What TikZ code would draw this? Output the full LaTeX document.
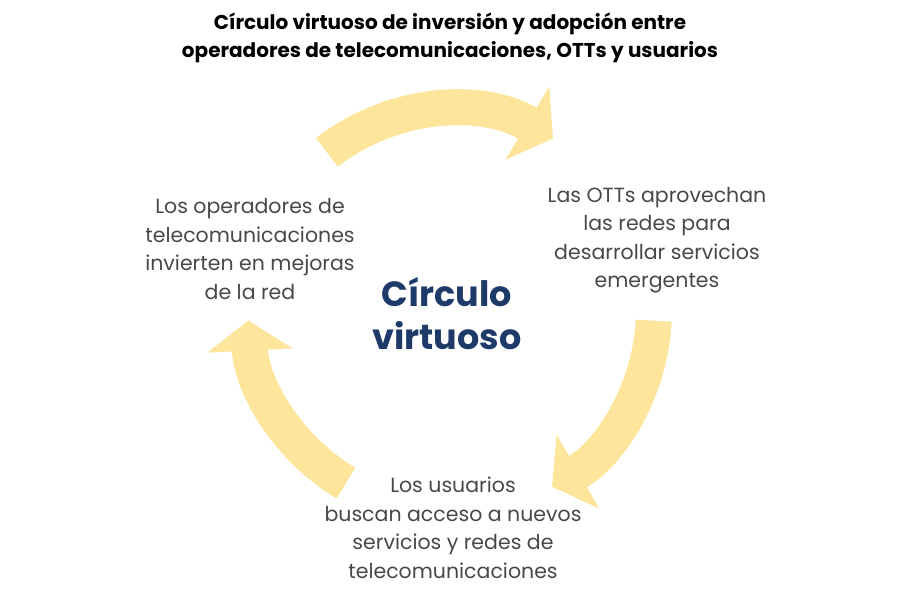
\documentclass[tikz,border=0pt]{standalone}
\usepackage{fontspec}
\setmainfont{Poppins}
\usepackage{tikz}
\usetikzlibrary{positioning,arrows.meta,calc}
\definecolor{SoftYellow}{HTML}{FDE59C}
\definecolor{TextGray}{HTML}{484848}
\definecolor{DeepNavy}{HTML}{1E3A68}

\begin{document}
\begin{tikzpicture}[
  x=1pt, y=1pt,
  title/.style={font=\fontsize{20}{28}\selectfont\bfseries, align=center, text=black},
  label/.style={font=\fontsize{20.5}{28.5}\selectfont, align=center, text=TextGray},
  core/.style={font=\fontsize{35}{43}\selectfont\bfseries, align=center, text=DeepNavy},
  band/.style={line width=36pt, color=SoftYellow, -{Triangle[length=30pt, width=84pt]}}
]
  \useasboundingbox (0,0) rectangle (900,593);
  \coordinate (c) at (450,283);

  % curved arrows of the cycle
  \draw[band] ($(c)+(128:200)$) arc[start angle=128, end angle=59, radius=200];
  \draw[band] ($(c)+(-3:204)$) arc[start angle=-3, end angle=-60, radius=204];
  \draw[band] ($(c)+(-121:202)$) arc[start angle=-121, end angle=-177, radius=202];

  \node[title] (head) at (450,555) {Círculo virtuoso de inversión y adopción entre\\operadores de telecomunicaciones, OTTs y usuarios};
  \node[core] (center) at (447,279) {Círculo\\virtuoso};
  \node[label] (operators) at (250,344) {Los operadores de\\telecomunicaciones\\invierten en mejoras\\de la red};
  \node[label] (otts) at (657,353) {Las OTTs aprovechan\\las redes para\\desarrollar servicios\\emergentes};
  \node[label] (users) at (453,65) {Los usuarios\\buscan acceso a nuevos\\servicios y redes de\\telecomunicaciones};
\end{tikzpicture}
\end{document}
